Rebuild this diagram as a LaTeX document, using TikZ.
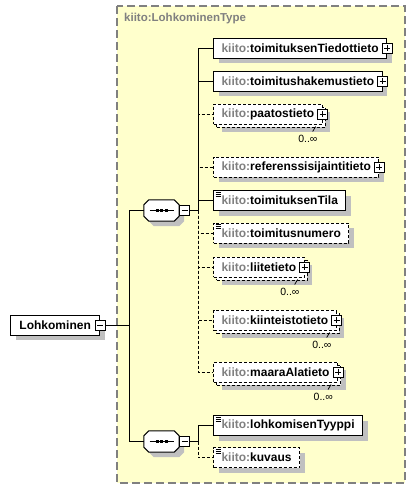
\documentclass[tikz,border=0pt]{standalone}
\usepackage{fontspec}
\setmainfont{Liberation Sans}
\usetikzlibrary{shadows}

\definecolor{typefill}{RGB}{255,255,204}
\definecolor{typeline}{RGB}{128,128,128}
\definecolor{nsgray}{RGB}{128,128,128}
\definecolor{shadegray}{RGB}{192,192,192}

% namespace prefix and room for the expand box
\newcommand{\ns}{{\color{nsgray}kiito:}}
\newcommand{\pgap}{\hspace{4pt}}

% octagon round a sequence node
\newcommand{\octagon}[2]{
    \path[#2] ([xshift=5pt]#1.north west) -- ([xshift=-5pt]#1.north east)
        -- ([yshift=-5pt]#1.north east) -- ([yshift=5pt]#1.south east)
        -- ([xshift=-5pt]#1.south east) -- ([xshift=5pt]#1.south west)
        -- ([yshift=5pt]#1.south west) -- ([yshift=-5pt]#1.north west) -- cycle;
}
\newcommand{\seqshape}[1]{
    \octagon{#1}{fill=shadegray, transform canvas={xshift=5pt, yshift=-5pt}}
    \octagon{#1}{draw, fill=white, line width=1pt}
    % the sequence mark
    \draw[line width=1pt] ([xshift=-12pt]#1.center) -- ([xshift=12pt]#1.center);
    \foreach \d in {-4.5,0,4.5}
        \fill ([xshift=\d pt]#1.center) +(-1.5,-1.5) rectangle +(1.5,1.5);
}

\tikzset{
    elembase/.style={draw, fill=white, line width=1pt, anchor=west, minimum height=20pt,
        inner xsep=8pt, inner ysep=0pt, font=\bfseries\fontsize{12}{14}\selectfont},
    boxshade/.style={drop shadow={shadow xshift=5pt, shadow yshift=-5pt, fill=shadegray, draw=none, opacity=1}},
    elem/.style={elembase, boxshade},
    optional/.style={dash pattern=on 3pt off 2pt},
    multi/.style={elembase, optional,
        drop shadow={shadow xshift=8pt, shadow yshift=-8pt, fill=shadegray, draw=none, opacity=1},
        copy shadow={shadow xshift=3pt, shadow yshift=-3pt, draw=black, fill=white, line width=1pt, dash pattern=on 3pt off 2pt}},
    simple/.style={path picture={
        \foreach \k in {1.5,3.5,5.5}
            \draw[solid, line width=0.8pt] ([xshift=2pt, yshift=-\k pt]path picture bounding box.north west) -- ++(5,0);
    }},
    pbox/.style={draw, fill=white, solid, line width=1pt, minimum size=10pt, inner sep=0pt,
        path picture={
            \draw[line width=1pt] ([yshift=-2pt]path picture bounding box.north) -- ([yshift=2pt]path picture bounding box.south);
            \draw[line width=1pt] ([xshift=2pt]path picture bounding box.west) -- ([xshift=-2pt]path picture bounding box.east);
    }},
    mbox/.style={draw, fill=white, solid, line width=1pt, minimum size=10pt, inner sep=0pt,
        path picture={
            \draw[line width=1pt] ([xshift=2pt]path picture bounding box.west) -- ([xshift=-2pt]path picture bounding box.east);
    }},
    seqnode/.style={rectangle, minimum width=35pt, minimum height=21pt, inner sep=0pt},
    card/.style={font=\fontsize{10.5}{12}\selectfont, inner sep=0pt, anchor=north east},
    typebox/.style={draw=typeline, fill=typefill, line width=1.2pt, dash pattern=on 8pt off 4pt},
    typelbl/.style={font=\bfseries\fontsize{11.5}{13}\selectfont, text=nsgray, anchor=west, inner sep=0pt},
    conn/.style={line width=1pt}
}

\begin{document}
\begin{tikzpicture}[x=1pt, y=-1pt]
    \useasboundingbox (0,0) rectangle (416,490);

    % Complex type frame
    \draw[typebox] (117,6) rectangle (405,483);
    \node[typelbl] (typename) at (124,19) {kiito:LohkominenType};

    % Root element
    \node[elem, inner xsep=9pt] (root) at (10,325) {Lohkominen\hspace{3pt}};
    \node[mbox] (root-m) at (root.east) {};
    \coordinate (rb) at (129,325);

    % Sequences
    \node[seqnode] (seq1) at (161.5,210.5) {};
    \seqshape{seq1}
    \node[mbox, anchor=west] (seq1-m) at (seq1.east) {};
    \node[seqnode] (seq2) at (161.5,441.5) {};
    \seqshape{seq2}
    \node[mbox, anchor=west] (seq2-m) at (seq2.east) {};
    \coordinate (b1) at (198,210.5);
    \coordinate (b2) at (198,441.5);

    % Elements of the first sequence
    \node[elem] (tiedot) at (213,48) {\ns toimituksenTiedottieto\pgap};
    \node[elem] (hakemus) at (213,81) {\ns toimitushakemustieto\pgap};
    \node[multi] (paatos) at (213,114) {\ns paatostieto\pgap};
    \node[elem, optional] (refer) at (213,167) {\ns referenssisijaintitieto\pgap};
    \node[elem, simple] (tila) at (213,200.5) {\ns toimituksenTila};
    \node[elem, optional, simple] (numero) at (213,233) {\ns toimitusnumero};
    \node[multi] (liite) at (213,267) {\ns liitetieto\pgap};
    \node[multi] (kiint) at (213,320) {\ns kiinteistotieto\pgap};
    \node[multi] (maara) at (213,372) {\ns maaraAlatieto\pgap};

    % Elements of the second sequence
    \node[elem, simple] (tyyppi) at (213,425.5) {\ns lohkomisenTyyppi};
    \node[elem, optional, simple] (kuvaus) at (213,457.5) {\ns kuvaus};

    % Expand boxes
    \foreach \n in {tiedot,hakemus,paatos,refer,liite,kiint,maara}
        \node[pbox] (\n-p) at (\n.east) {};

    % Occurrence labels
    \foreach \n in {paatos,liite,kiint,maara} {
        \node[card] (\n-c) at ([xshift=-5pt,yshift=-10pt]\n.south east) {0..∞};
        \draw[line width=0.8pt] ([xshift=-5pt,yshift=3pt]\n-c.north east) -- ++(3,-5);
    }

    % Connectors
    \draw[conn] (root-m.east) -- (rb);
    \draw[conn] (rb) |- (seq1.west);
    \draw[conn] (rb) |- (seq2.west);
    \foreach \n in {paatos,refer,numero,liite,kiint,maara}
        \draw[conn, optional] (b1) |- (\n.west);
    \foreach \n in {tiedot,hakemus,tila}
        \draw[conn] (b1) |- (\n.west);
    \draw[conn] (seq1-m.east) -- (b1);
    \draw[conn, optional] (b2) |- (kuvaus.west);
    \draw[conn] (b2) |- (tyyppi.west);
    \draw[conn] (seq2-m.east) -- (b2);
\end{tikzpicture}
\end{document}
